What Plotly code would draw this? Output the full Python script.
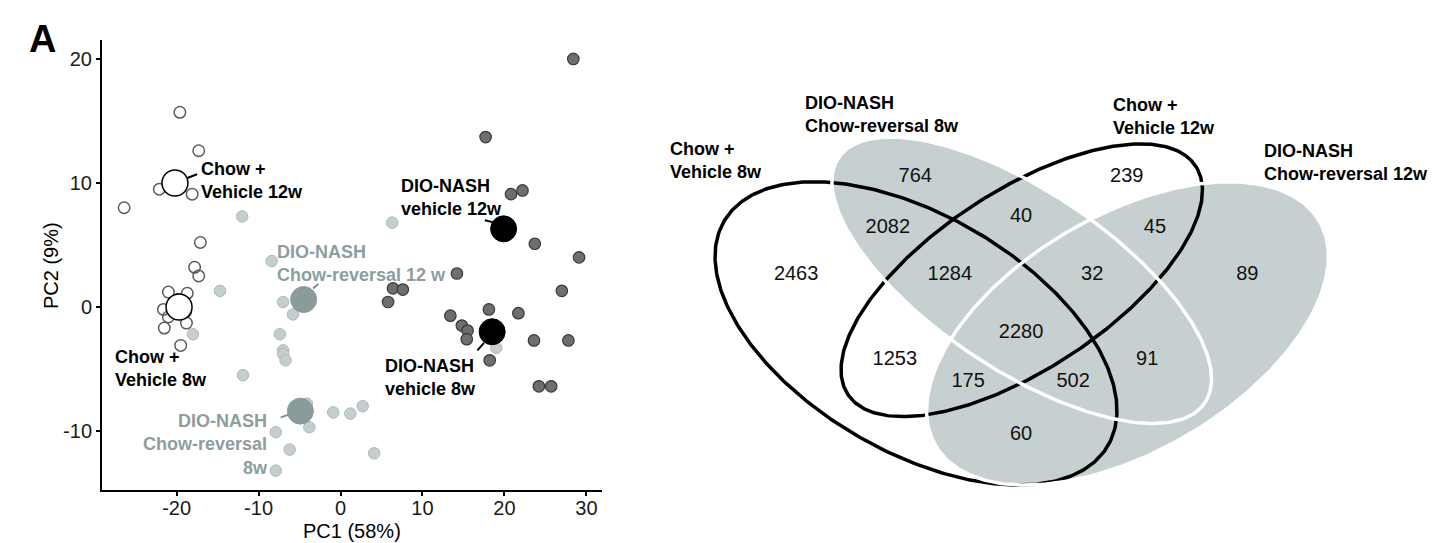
import numpy as np
import plotly.graph_objects as go

W, H = 1435, 543
FONT = "Arial, Liberation Sans, sans-serif"

# ---------------- PCA scores (PC1, PC2) per group ----------------
chow8_pc1 = [-21.0, -18.7, -21.6, -21.0, -18.8, -21.5, -19.5, -19.8, -18.9, -17.8, -17.3]
chow8_pc2 = [1.2, 1.1, -0.2, -0.8, -1.3, -1.7, -3.1, 0.6, -0.4, 3.2, 2.5]

chow12_pc1 = [-19.6, -17.3, -22.1, -18.1, -26.4, -17.1]
chow12_pc2 = [15.7, 12.6, 9.5, 9.1, 8.0, 5.2]

rev8_pc1 = [-7.9, -6.2, -7.9, -3.8, -4.1, -0.9, 1.2, 2.7, 4.1, -11.9, 19.0]
rev8_pc2 = [-10.1, -11.5, -13.2, -9.7, -7.8, -8.5, -8.6, -8.0, -11.8, -5.5, -3.3]

rev12_pc1 = [-12.0, -8.4, -14.7, -7.0, -5.8, -7.4, -7.0, -7.0, -6.7, 6.3, -18.0]
rev12_pc2 = [7.3, 3.7, 1.3, 0.4, -0.6, -2.2, -3.5, -3.8, -4.3, 6.8, -2.2]

veh8_pc1 = [6.4, 7.6, 5.8, 27.0, 18.1, 21.7, 13.4, 14.8, 15.5, 15.4, 23.6, 27.8, 18.2, 24.2, 25.7]
veh8_pc2 = [1.5, 1.4, 0.4, 1.3, -0.2, -0.5, -0.7, -1.5, -1.9, -2.6, -2.7, -2.7, -4.3, -6.4, -6.4]

veh12_pc1 = [28.4, 17.7, 20.8, 22.2, 23.7, 29.1, 14.2]
veh12_pc2 = [20.0, 13.7, 9.1, 9.4, 5.1, 4.0, 2.7]

# group centroids
centroid_groups = ["Chow8", "Chow12", "Rev8", "Rev12", "Veh8", "Veh12"]
centroid_pc1 = [-19.7, -20.2, -4.9, -4.5, 18.5, 19.9]
centroid_pc2 = [0.0, 10.0, -8.4, 0.6, -2.0, 6.3]

# axis ticks
pc1_ticks = [-20, -10, 0, 10, 20, 30]
pc2_ticks = [-10, 0, 10, 20]

# ---------------- Venn counts ----------------
venn_sets = ["Chow +<br>Vehicle 8w", "DIO-NASH<br>Chow-reversal 8w",
             "Chow +<br>Vehicle 12w", "DIO-NASH<br>Chow-reversal 12w"]
venn_regions = ["1", "2", "3", "4", "12", "23", "34", "123", "234", "1234",
                "13", "24", "134", "124", "14"]
venn_counts = [2463, 764, 239, 89, 2082, 40, 45, 1284, 32, 2280,
               1253, 91, 175, 502, 60]

# ---------------- styling / layout ----------------
BLACK = "#000000"
GREY_LABEL = "#8d9e9e"
LIGHT_FILL = "#c4cece"
LIGHT_LINE = "#adb9b9"
REV_CENTROID = "#8a9b9b"
DARK_FILL = "#6e6e6e"
DARK_LINE = "#3a3a3a"
VENN_GREY = "#c7d0d0"

fig = go.Figure()

def pts(x, y, fill, line, lw, size=11.5):
    fig.add_trace(go.Scatter(
        x=x, y=y, mode="markers", xaxis="x", yaxis="y",
        marker=dict(size=size, color=fill, line=dict(color=line, width=lw)),
        hoverinfo="skip", showlegend=False))

pts(chow8_pc1, chow8_pc2, "rgba(255,255,255,0)", "#5c5c5c", 1.5)
pts(chow12_pc1, chow12_pc2, "rgba(255,255,255,0)", "#5c5c5c", 1.5)
pts(rev8_pc1, rev8_pc2, LIGHT_FILL, LIGHT_LINE, 1)
pts(rev12_pc1, rev12_pc2, LIGHT_FILL, LIGHT_LINE, 1)
pts(veh8_pc1, veh8_pc2, DARK_FILL, DARK_LINE, 1.2)
pts(veh12_pc1, veh12_pc2, DARK_FILL, DARK_LINE, 1.2)

# connector segments from centroids to their labels
connectors = [
    ((-18.7, -17.5), (10.4, 10.7), BLACK),
    ((17.6, 18.8), (7.0, 6.8), BLACK),
    ((-3.35, -2.7), (1.5, 1.85), "#7f8f8f"),
    ((16.7, 17.5), (-3.5, -2.9), BLACK),
    ((-7.3, -6.4), (-8.9, -8.7), "#7f8f8f"),
]
for cx, cy, col in connectors:
    fig.add_trace(go.Scatter(x=list(cx), y=list(cy), mode="lines", xaxis="x", yaxis="y",
                             line=dict(color=col, width=2), hoverinfo="skip", showlegend=False))

centroid_style = {
    "Chow8": ("#ffffff", BLACK, 1.5),
    "Chow12": ("#ffffff", BLACK, 1.5),
    "Rev8": (REV_CENTROID, REV_CENTROID, 1),
    "Rev12": (REV_CENTROID, REV_CENTROID, 1),
    "Veh8": (BLACK, BLACK, 1),
    "Veh12": (BLACK, BLACK, 1),
}
for g, x, y in zip(centroid_groups, centroid_pc1, centroid_pc2):
    f, l, w = centroid_style[g]
    pts([x], [y], f, l, w, size=26)

# group labels on the PCA panel
pca_labels = [
    ("Chow +<br>Vehicle 12w", -17.26, 10.2, "left", BLACK),
    ("DIO-NASH<br>vehicle 12w", 7.13, 8.8, "left", BLACK),
    ("DIO-NASH<br>Chow-reversal 12 w", -8.0, 3.5, "left", GREY_LABEL),
    ("DIO-NASH<br>vehicle 8w", 5.18, -5.65, "left", BLACK),
    ("Chow +<br>Vehicle 8w", -27.7, -5.0, "left", BLACK),
    ("DIO-NASH<br>Chow-reversal<br>8w", -8.6, -11.1, "right", GREY_LABEL),
]
annotations = []
for txt, x, y, al, col in pca_labels:
    annotations.append(dict(text="<b>%s</b>" % txt, x=x, y=y, xref="x", yref="y",
                            xanchor=al, yanchor="middle", align=al, showarrow=False,
                            font=dict(family=FONT, size=18, color=col)))

# ---------------- Venn diagram (four ellipses) ----------------
ellipses = [  # centre x, centre y, a, b, rotation (deg)
    (0.35, 0.47, 0.35, 0.20, 135),
    (0.50, 0.57, 0.35, 0.15, 135),
    (0.50, 0.57, 0.33, 0.15, 45),
    (0.65, 0.47, 0.35, 0.20, 45),
]
ell_fill = [None, VENN_GREY, None, VENN_GREY]
ell_line = [BLACK, "#ffffff", BLACK, "#ffffff"]

t = np.linspace(0, 2 * np.pi, 400)

def ellipse_xy(cx, cy, a, b, rot):
    r = np.deg2rad(rot)
    x = cx + a * np.cos(t) * np.cos(r) - b * np.sin(t) * np.sin(r)
    y = cy + a * np.cos(t) * np.sin(r) + b * np.sin(t) * np.cos(r)
    return x, y

for e, fc in zip(ellipses, ell_fill):
    if fc:
        x, y = ellipse_xy(*e)
        fig.add_trace(go.Scatter(x=x, y=y, mode="lines", fill="toself", fillcolor=fc,
                                 line=dict(width=0), xaxis="x2", yaxis="y2",
                                 hoverinfo="skip", showlegend=False))
for order in (BLACK, "#ffffff"):
    for e, lc in zip(ellipses, ell_line):
        if lc == order:
            x, y = ellipse_xy(*e)
            fig.add_trace(go.Scatter(x=x, y=y, mode="lines", line=dict(color=lc, width=3.5),
                                     xaxis="x2", yaxis="y2", hoverinfo="skip", showlegend=False))

region_pos = {
    "1": (0.180, 0.580), "2": (0.349, 0.764), "3": (0.649, 0.764), "4": (0.820, 0.580),
    "12": (0.310, 0.668), "23": (0.499, 0.689), "34": (0.689, 0.668),
    "123": (0.398, 0.580), "234": (0.600, 0.580), "1234": (0.499, 0.471),
    "13": (0.320, 0.420), "24": (0.678, 0.420), "134": (0.424, 0.379),
    "124": (0.573, 0.379), "14": (0.499, 0.279),
}
fig.add_trace(go.Scatter(
    x=[region_pos[r][0] for r in venn_regions], y=[region_pos[r][1] for r in venn_regions],
    text=[str(c) for c in venn_counts], mode="text", textposition="middle center",
    textfont=dict(family=FONT, size=20, color="#111111"),
    xaxis="x2", yaxis="y2", hoverinfo="skip", showlegend=False))

set_label_pos = [(-0.002, 0.796), (0.190, 0.882), (0.627, 0.877), (0.841, 0.792)]
for txt, (x, y) in zip(venn_sets, set_label_pos):
    annotations.append(dict(text="<b>%s</b>" % txt, x=x, y=y, xref="x2", yref="y2",
                            xanchor="left", yanchor="middle", align="left", showarrow=False,
                            font=dict(family=FONT, size=18, color=BLACK)))

# panel letter and axis titles
annotations.append(dict(text="<b>A</b>", x=27 / W, y=1 - 39 / H, xref="paper", yref="paper",
                        xanchor="left", yanchor="middle", showarrow=False,
                        font=dict(family=FONT, size=38, color=BLACK)))
annotations.append(dict(text="PC1 (58%)", x=352 / W, y=0, xref="paper", yref="paper",
                        xanchor="center", yanchor="bottom", showarrow=False, borderpad=0,
                        font=dict(family=FONT, size=20, color=BLACK)))
annotations.append(dict(text="PC2 (9%)", x=51 / W, y=1 - 266 / H, xref="paper", yref="paper",
                        xanchor="center", yanchor="middle", showarrow=False, textangle=-90,
                        font=dict(family=FONT, size=20, color=BLACK)))

axis_common = dict(showgrid=False, zeroline=False, showline=True, linecolor=BLACK, linewidth=2,
                   ticks="outside", ticklen=4, tickwidth=1.5, tickcolor=BLACK,
                   tickfont=dict(family=FONT, size=20, color="#1a1a1a"))

fig.update_layout(
    width=W, height=H, margin=dict(l=0, r=0, t=0, b=0),
    paper_bgcolor="white", plot_bgcolor="white", showlegend=False,
    xaxis=dict(domain=[102 / W, 602 / W], range=[-29.1, 31.9], tickvals=pc1_ticks,
               ticktext=[str(v) for v in pc1_ticks], ticklabelstandoff=-5,
               anchor="y", **axis_common),
    yaxis=dict(domain=[53 / H, 503 / H], range=[-14.76, 21.53], tickvals=pc2_ticks,
               ticktext=[str(v) for v in pc2_ticks],
               anchor="x", **axis_common),
    xaxis2=dict(domain=[650 / W, 1.0], range=[-0.0273, 1.0862], visible=False, anchor="y2"),
    yaxis2=dict(domain=[0, 1], range=[0.0761, 1.0968], visible=False, anchor="x2"),
    annotations=annotations,
)

fig.write_html("out.html")
